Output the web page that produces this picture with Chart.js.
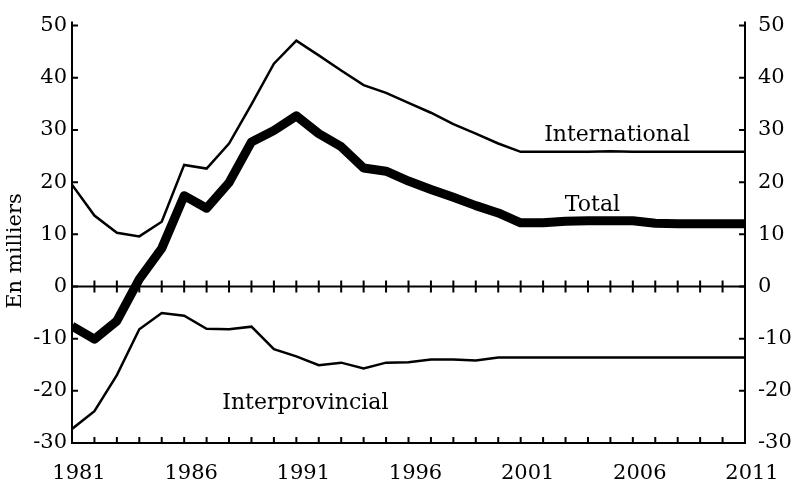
<!DOCTYPE html>
<html>
<head>
<meta charset="utf-8">
<script src="https://cdn.jsdelivr.net/npm/chart.js@4/dist/chart.umd.min.js"></script>
<style>
  html, body { margin: 0; padding: 0; background: #fff; }
  #wrap { width: 797px; height: 489px; }
</style>
</head>
<body>
<div id="wrap"><canvas id="c"></canvas></div>
<script>
const years = [1981, 1982, 1983, 1984, 1985, 1986, 1987, 1988, 1989, 1990,
               1991, 1992, 1993, 1994, 1995, 1996, 1997, 1998, 1999, 2000,
               2001, 2002, 2003, 2004, 2005, 2006, 2007, 2008, 2009, 2010, 2011];
const international = [19.5, 13.6, 10.3, 9.6, 12.4, 23.3, 22.6, 27.4, 34.9, 42.7,
                       47.1, 44.3, 41.4, 38.6, 37.1, 35.2, 33.3, 31.1, 29.3, 27.4,
                       25.8, 25.8, 25.8, 25.8, 25.9, 25.8, 25.8, 25.8, 25.8, 25.8, 25.8];
const total = [-7.6, -10.1, -6.6, 1.4, 7.3, 17.4, 15.0, 19.9, 27.7, 29.9,
               32.7, 29.3, 26.8, 22.7, 22.1, 20.2, 18.6, 17.1, 15.5, 14.1,
               12.2, 12.2, 12.5, 12.6, 12.6, 12.6, 12.1, 12.0, 12.0, 12.0, 12.0];
const interprovincial = [-27.3, -23.9, -17.0, -8.2, -5.1, -5.6, -8.1, -8.2, -7.7, -12.0,
                         -13.4, -15.1, -14.6, -15.7, -14.6, -14.5, -14.0, -14.0, -14.2, -13.6,
                         -13.6, -13.6, -13.6, -13.6, -13.6, -13.6, -13.6, -13.6, -13.6, -13.6, -13.6];
const xLabels = [1981, 1986, 1991, 1996, 2001, 2006, 2011];
const yTicks = [-30, -20, -10, 0, 10, 20, 30, 40, 50];

const FONT = '"DejaVu Serif", "Liberation Serif", serif';

// axes frame, tick marks, zero line, axis title and series names
const decor = {
  id: 'decor',
  afterDatasetsDraw(chart) {
    const { ctx, chartArea: a, scales } = chart;
    const x = scales.x, y = scales.y;
    ctx.save();
    ctx.strokeStyle = '#000';
    ctx.lineWidth = 2;
    ctx.lineCap = 'butt';
    ctx.beginPath();
    ctx.moveTo(a.left, a.top - 4); ctx.lineTo(a.left, a.bottom + 1);
    ctx.moveTo(a.right, a.top - 4); ctx.lineTo(a.right, a.bottom + 1);
    ctx.moveTo(a.left, a.bottom); ctx.lineTo(a.right, a.bottom);
    const z = y.getPixelForValue(0);
    ctx.moveTo(a.left, z); ctx.lineTo(a.right, z);
    ctx.stroke();
    ctx.beginPath();
    years.forEach(yr => {
      const px = x.getPixelForValue(yr);
      ctx.moveTo(px, a.bottom); ctx.lineTo(px, a.bottom - 6);
      if (yr > years[0] && yr < years[years.length - 1]) {
        ctx.moveTo(px, z - 6); ctx.lineTo(px, z + 6);
      }
    });
    yTicks.forEach(v => {
      const py = y.getPixelForValue(v);
      ctx.moveTo(a.left, py); ctx.lineTo(a.left + 6, py);
      ctx.moveTo(a.right, py); ctx.lineTo(a.right - 6, py);
    });
    ctx.stroke();
    ctx.fillStyle = '#000';
    ctx.font = '22px ' + FONT;
    ctx.textAlign = 'center';
    ctx.textBaseline = 'middle';
    ctx.fillText('International', x.getPixelForValue(2005.3), y.getPixelForValue(29));
    ctx.fillText('Total', x.getPixelForValue(2004.2), y.getPixelForValue(15.5));
    ctx.fillText('Interprovincial', x.getPixelForValue(1991.4), y.getPixelForValue(-22.4));
    ctx.font = '21px ' + FONT;
    ctx.translate(16, 251);
    ctx.rotate(-Math.PI / 2);
    ctx.fillText('En milliers', 0, 0);
    ctx.restore();
  }
};

new Chart(document.getElementById('c'), {
  type: 'line',
  data: {
    labels: years,
    datasets: [
      { label: 'International', data: international, borderColor: '#000', borderWidth: 2.5, pointRadius: 0, tension: 0 },
      { label: 'Total', data: total, borderColor: '#000', borderWidth: 9, pointRadius: 0, tension: 0, borderJoinStyle: 'round' },
      { label: 'Interprovincial', data: interprovincial, borderColor: '#000', borderWidth: 2.5, pointRadius: 0, tension: 0 }
    ]
  },
  plugins: [decor],
  options: {
    responsive: true,
    maintainAspectRatio: false,
    animation: false,
    layout: { padding: { top: 16, left: 0, right: 0, bottom: 0 } },
    plugins: { legend: { display: false }, tooltip: { enabled: false } },
    scales: {
      x: {
        type: 'linear',
        min: 1981, max: 2011,
        grid: { display: false, drawTicks: false },
        border: { display: false },
        afterBuildTicks: s => { s.ticks = xLabels.map(v => ({ value: v })); },
        afterFit: s => { s.height = 46; },
        ticks: { color: '#000', font: { family: FONT, size: 21 }, padding: 18, labelOffset: 7, maxRotation: 0, autoSkip: false, callback: v => String(v) }
      },
      y: {
        position: 'left',
        min: -30, max: 50,
        grid: { display: false, drawTicks: false },
        border: { display: false },
        afterBuildTicks: s => { s.ticks = yTicks.map(v => ({ value: v })); },
        afterFit: s => { s.width = 72; },
        ticks: { color: '#000', font: { family: FONT, size: 21 }, padding: 5 }
      },
      y2: {
        position: 'right',
        min: -30, max: 50,
        grid: { display: false, drawTicks: false },
        border: { display: false },
        afterBuildTicks: s => { s.ticks = yTicks.map(v => ({ value: v })); },
        afterFit: s => { s.width = 52; },
        ticks: { color: '#000', font: { family: FONT, size: 21 }, padding: 13 }
      }
    }
  }
});
</script>
</body>
</html>
